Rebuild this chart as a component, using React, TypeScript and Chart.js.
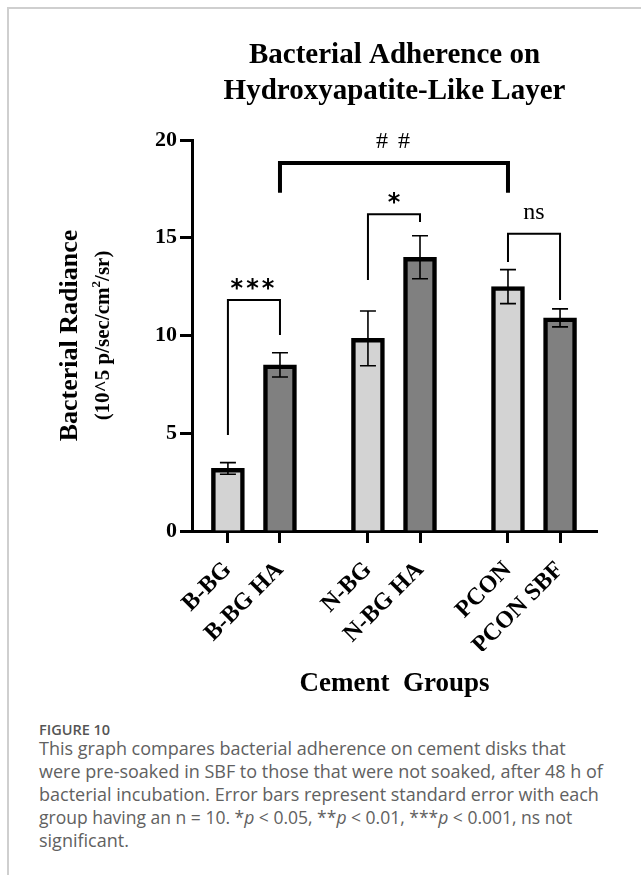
import React, { useEffect, useRef } from "react";
import { Chart, registerables } from "chart.js";

Chart.register(...registerables);

// ---- data ----
const categories = ["B-BG", "B-BG HA", "N-BG", "N-BG HA", "PCON", "PCON SBF"];
const positions = [0, 1, 2.69, 3.69, 5.38, 6.38];
const means = [3.2, 8.5, 9.85, 14.0, 12.5, 10.9];
const errors = [0.3, 0.62, 1.4, 1.1, 0.87, 0.46];
const yTicks = [0, 5, 10, 15, 20];

// significance brackets (in data units)
const bracketFrom = [0, 2, 4, 1];
const bracketTo = [1, 3, 5, 4];
const bracketTop = [11.82, 16.2, 15.2, 18.82];
const bracketLeftEnd = [4.91, 12.84, 13.76, 17.3];
const bracketRightEnd = [10.03, 15.8, 11.82, 17.3];
const bracketLabels = ["***", "*", "ns", "# #"];
const bracketLabelBase = [12.02, 16.42, 15.96, 19.59];

// ---- styles ----
const barFills = ["#d3d3d3", "#808080", "#d3d3d3", "#808080", "#d3d3d3", "#808080"];
const bracketLineWidths = [2, 2, 2, 4];
const bracketFonts = [
  "bold 24px 'DejaVu Sans'",
  "bold 24px 'DejaVu Sans'",
  "24px 'Liberation Serif'",
  "24px 'Liberation Serif'",
];
const bracketSpacing = ["3px", "0px", "0px", "2px"];
const SERIF = "'Liberation Serif', 'Times New Roman', serif";

const decorPlugin = {
  id: "decor",
  afterDatasetsDraw(chart: any) {
    const { ctx, chartArea } = chart;
    const x = chart.scales.x;
    const y = chart.scales.y;
    ctx.save();
    // error bars
    ctx.strokeStyle = "#000";
    ctx.lineWidth = 1.6;
    means.forEach((m, i) => {
      const px = x.getPixelForValue(positions[i]);
      const top = y.getPixelForValue(m + errors[i]);
      const bot = y.getPixelForValue(m - errors[i]);
      ctx.beginPath();
      ctx.moveTo(px, top);
      ctx.lineTo(px, bot);
      ctx.moveTo(px - 8, top);
      ctx.lineTo(px + 8, top);
      ctx.moveTo(px - 8, bot);
      ctx.lineTo(px + 8, bot);
      ctx.stroke();
    });
    // brackets
    bracketFrom.forEach((f, i) => {
      const x1 = x.getPixelForValue(positions[f]);
      const x2 = x.getPixelForValue(positions[bracketTo[i]]);
      const yt = y.getPixelForValue(bracketTop[i]);
      ctx.lineWidth = bracketLineWidths[i];
      ctx.lineJoin = "miter";
      ctx.beginPath();
      ctx.moveTo(x1, y.getPixelForValue(bracketLeftEnd[i]));
      ctx.lineTo(x1, yt);
      ctx.lineTo(x2, yt);
      ctx.lineTo(x2, y.getPixelForValue(bracketRightEnd[i]));
      ctx.stroke();
      ctx.font = bracketFonts[i];
      ctx.fillStyle = "#000";
      ctx.textAlign = "center";
      ctx.textBaseline = "alphabetic";
      (ctx as any).letterSpacing = bracketSpacing[i];
      ctx.fillText(bracketLabels[i], (x1 + x2) / 2, y.getPixelForValue(bracketLabelBase[i]));
    });
    (ctx as any).letterSpacing = "0px";
    // chart title
    const cx = (chartArea.left + chartArea.right) / 2;
    ctx.fillStyle = "#000";
    ctx.textAlign = "center";
    ctx.textBaseline = "alphabetic";
    ctx.font = `bold 29px ${SERIF}`;
    ctx.fillText("Bacterial Adherence on", cx, 63);
    ctx.fillText("Hydroxyapatite-Like Layer", cx, 99);
    // y axis title
    const cy = (chartArea.top + chartArea.bottom) / 2;
    ctx.save();
    ctx.translate(70, cy);
    ctx.rotate(-Math.PI / 2);
    ctx.textBaseline = "middle";
    ctx.font = `bold 26px ${SERIF}`;
    ctx.fillText("Bacterial Radiance", 0, 0);
    ctx.restore();
    // subtitle with superscript
    ctx.save();
    ctx.translate(104, cy);
    ctx.rotate(-Math.PI / 2);
    ctx.textBaseline = "middle";
    ctx.textAlign = "left";
    const mainFont = `bold 21px ${SERIF}`;
    const supFont = `bold 13px ${SERIF}`;
    const partA = "(10^5 p/sec/cm";
    const partB = "2";
    const partC = "/sr)";
    ctx.font = mainFont;
    const wA = ctx.measureText(partA).width;
    const wC = ctx.measureText(partC).width;
    ctx.font = supFont;
    const wB = ctx.measureText(partB).width;
    let sx = -(wA + wB + wC) / 2;
    ctx.font = mainFont;
    ctx.fillText(partA, sx, 0);
    sx += wA;
    ctx.font = supFont;
    ctx.fillText(partB, sx, -7);
    sx += wB;
    ctx.font = mainFont;
    ctx.fillText(partC, sx, 0);
    ctx.restore();
    // x axis title
    ctx.font = `bold 27px ${SERIF}`;
    ctx.textAlign = "center";
    ctx.fillText("Cement  Groups", cx, 691);
    ctx.restore();
  },
};

export default function App() {
  const ref = useRef<HTMLCanvasElement>(null);
  useEffect(() => {
    if (!ref.current) return;
    const chart = new Chart(ref.current, {
      type: "bar",
      data: {
        datasets: [
          {
            data: positions.map((p, i) => ({ x: p, y: means[i] })),
            backgroundColor: barFills,
            borderColor: "#000",
            borderWidth: 4.5,
            barThickness: 33,
          },
        ],
      },
      options: {
        responsive: false,
        animation: false,
        layout: { padding: { left: 132, top: 140, right: 44, bottom: 49 } },
        plugins: {
          legend: { display: false },
          tooltip: { enabled: false },
          title: { display: false },
        },
        scales: {
          x: {
            type: "linear",
            min: -0.69,
            max: 7.09,
            offset: false,
            afterBuildTicks: (scale: any) => {
              scale.ticks = positions.map((v) => ({ value: v }));
            },
            afterFit: (scale: any) => {
              scale.height = 120;
            },
            grid: {
              display: true,
              offset: false,
              drawOnChartArea: false,
              drawTicks: true,
              tickLength: 12,
              tickWidth: 3,
              tickColor: "#000",
            },
            border: { display: true, width: 3, color: "#000" },
            ticks: {
              autoSkip: false,
              minRotation: 45,
              maxRotation: 45,
              padding: 13,
              color: "#000",
              font: { family: SERIF, size: 24, weight: "bold" },
              callback: (_v: any, i: number) => categories[i],
            },
          },
          y: {
            type: "linear",
            min: 0,
            max: 20,
            afterBuildTicks: (scale: any) => {
              scale.ticks = yTicks.map((v) => ({ value: v }));
            },
            afterFit: (scale: any) => {
              scale.width = 60;
            },
            grid: {
              display: true,
              drawOnChartArea: false,
              drawTicks: true,
              tickLength: 12,
              tickWidth: 3,
              tickColor: "#000",
            },
            border: { display: true, width: 3, color: "#000" },
            ticks: {
              padding: 3,
              color: "#000",
              font: { family: SERIF, size: 22, weight: "bold" },
            },
          },
        },
      },
      plugins: [decorPlugin],
    } as any);
    return () => chart.destroy();
  }, []);

  const captionFont = "'Open Sans', 'Noto Sans', sans-serif";
  const lineStyle: React.CSSProperties = {
    position: "absolute",
    left: 39,
    whiteSpace: "nowrap",
    fontFamily: captionFont,
    fontSize: 18,
    lineHeight: "23px",
    color: "#616161",
  };
  const captionLines = [
    "This graph compares bacterial adherence on cement disks that",
    "were pre-soaked in SBF to those that were not soaked, after 48 h of",
    "bacterial incubation. Error bars represent standard error with each",
    null,
    "significant.",
  ];
  return (
    <div>
      <div style={{ position: "absolute", left: 7, top: 7, width: 634, height: 0, borderTop: "2px solid #cfcfcf" }} />
      <div style={{ position: "absolute", left: 7, top: 7, width: 0, height: 868, borderLeft: "2px solid #cfcfcf" }} />
      <canvas ref={ref} width={641} height={700} style={{ position: "absolute", left: 0, top: 0 }} />
      <div
        style={{
          position: "absolute",
          left: 39,
          top: 721,
          fontFamily: captionFont,
          fontSize: 14.5,
          fontWeight: 600,
          lineHeight: "18px",
          color: "#555",
          whiteSpace: "nowrap",
        }}
      >
        FIGURE 10
      </div>
      {captionLines.map((t, i) => (
        <div key={i} style={{ ...lineStyle, top: 737 + i * 23, fontSize: t === null ? 17.5 : 18 }}>
          {t === null ? (
            <span>
              group having an n = 10. *<i>p</i> &lt; 0.05, **<i>p</i> &lt; 0.01, ***<i>p</i> &lt; 0.001, ns not
            </span>
          ) : (
            t
          )}
        </div>
      ))}
    </div>
  );
}
